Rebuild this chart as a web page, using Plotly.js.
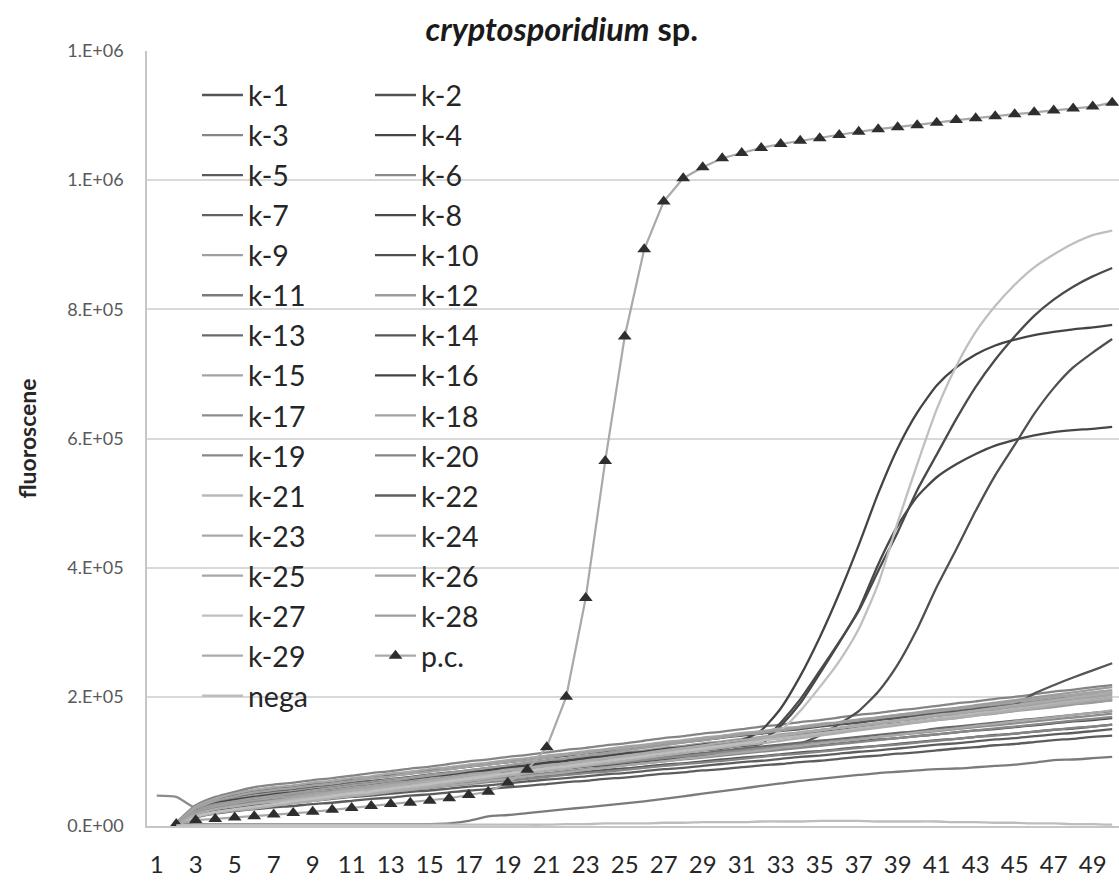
<!DOCTYPE html>
<html><head><meta charset="utf-8">
<script src="https://cdn.plot.ly/plotly-3.0.1.min.js"></script>
<style>html,body{margin:0;padding:0;background:#fff}#chart{width:1119px;height:882px}</style>
</head><body><div id="chart"></div>
<script>
// PCR cycle (category axis)
const cycles = [1,2,3,4,5,6,7,8,9,10,11,12,13,14,15,16,17,18,19,20,21,22,23,24,25,26,27,28,29,30,31,32,33,34,35,36,37,38,39,40,41,42,43,44,45,46,47,48,49,50];
const xTickVals = [1,3,5,7,9,11,13,15,17,19,21,23,25,27,29,31,33,35,37,39,41,43,45,47,49];
const xTickText = ['1','3','5','7','9','11','13','15','17','19','21','23','25','27','29','31','33','35','37','39','41','43','45','47','49'];
// y values are fluorescence in thousands
const yTickVals = [0,200,400,600,800,1000,1200];
const yTickText = ['0.E+00','2.E+05','4.E+05','6.E+05','8.E+05','1.E+06','1.E+06'];

const k1  = [null,2,20,29,34, 38,41,43,46,49, 52,54,57,60,62, 65,68,70,73,76, 79,81,84,87,89, 92,95,97,100,103, 106,108,111,114,116, 119,122,124,127,130, 133,135,138,141,143, 146,149,151,154,157];
const k2  = [null,3,24,34,40, 44,47,50,52,55, 58,61,64,66,69, 72,75,78,80,83, 86,89,92,94,97, 100,103,106,108,111, 114,117,120,122,125, 128,131,134,136,139, 142,145,148,150,153, 156,159,162,164,167];
const k3  = [null,5,32,45,53, 60,64,67,71,74, 78,82,85,89,92, 96,100,103,107,110, 114,118,121,125,128, 132,136,139,143,146, 150,154,157,161,164, 168,172,175,179,182, 186,190,193,197,200, 204,208,211,215,218];
const k4  = [null,3,23,33,38, 41,44,48,51,54, 58,61,64,67,71, 74,77,81,84,87, 91,94,97,100,104, 107,110,114,117,120, 124,127,155,190,236, 284,335,405,465,510, 540,560,576,589,598, 605,610,613,615,618];
const k5  = [null,2,13,19,23, 26,29,31,34,36, 39,42,44,47,49, 52,55,57,60,62, 65,68,70,73,75, 78,81,83,86,88, 91,94,96,99,101, 104,107,109,112,114, 117,120,122,125,127, 130,133,135,138,140];
const k6  = [null,4,28,40,47, 53,57,60,64,67, 71,74,78,81,85, 88,92,95,99,102, 106,109,113,116,120, 123,127,130,134,137, 141,144,148,151,155, 158,162,165,169,172, 176,179,183,186,190, 193,197,200,204,207];
const k7  = [null,3,26,37,44, 50,53,57,60,63, 67,70,73,76,80, 83,86,90,93,96, 100,103,106,109,113, 116,119,123,126,129, 133,136,139,142,146, 149,152,156,159,162, 166,169,172,175,179, 182,185,189,192,195];
const k8  = [null,3,24,34,40, 42,45,49,52,56, 59,62,66,69,73, 76,79,83,86,90, 93,96,100,103,107, 110,113,117,120,124, 127,130,160,196,240, 285,333,395,455,520, 575,630,680,722,758, 790,815,835,851,864];
const k9  = [null,3,25,35,42, 47,51,54,58,61, 65,68,72,75,79, 82,86,89,93,96, 100,103,107,110,114, 117,121,124,128,131, 135,138,142,145,149, 152,156,159,163,166, 170,173,177,180,184, 187,191,194,198,201];
const k10 = [null,3,22,31,36, 40,43,46,49,53, 56,59,62,65,68, 72,75,78,81,84, 87,90,94,97,100, 103,106,109,112,116, 119,122,125,128,140, 158,178,208,250,305, 370,428,488,543,590, 638,678,710,733,754];
const k11 = [null,3,3,3,3, 3,3,3,3,3, 3,3,3,3,3, 4,8,15,17,20, 23,26,29,32,35, 38,42,46,50,54, 58,62,66,70,73, 76,79,82,84,86, 88,89,91,93,95, 98,102,103,105,107];
const k12 = [null,3,24,33,40, 45,48,52,55,59, 62,65,69,72,76, 79,82,86,89,93, 96,99,103,106,110, 113,116,120,123,127, 130,133,137,140,144, 147,150,154,157,161, 164,167,171,174,178, 181,184,188,191,195];
const k13 = [null,3,22,31,37, 42,45,48,51,54, 58,61,64,67,70, 73,76,79,82,85, 89,92,95,98,101, 104,107,110,113,116, 120,123,126,129,132, 135,138,141,144,147, 151,154,157,160,163, 166,169,172,175,178];
const k14 = [null,3,28,41,49, 55,58,62,65,69, 72,75,79,82,86, 89,92,96,99,103, 106,109,113,116,120, 123,126,130,133,137, 140,143,147,150,154, 157,160,164,167,171, 174,177,181,184,188, 205,218,230,241,252];
const k15 = [null,3,21,30,36, 41,45,48,52,56, 60,63,67,71,74, 78,82,85,89,93, 97,100,104,108,111, 115,119,122,126,130, 134,137,141,145,148, 152,156,159,163,167, 171,174,178,182,185, 189,193,196,200,204];
const k16 = [null,3,25,35,41, 45,49,52,56,59, 63,66,70,73,77, 80,84,87,91,94, 98,101,105,108,112, 115,119,122,126,129, 133,148,182,232,292, 360,435,515,585,640, 682,710,730,744,753, 760,765,769,772,776];
const k17 = [47,45,28,34,38, 42,45,48,51,54, 57,60,63,66,69, 72,75,78,81,84, 87,90,93,96,99, 102,105,108,111,114, 117,120,123,126,129, 132,135,138,141,144, 147,150,153,156,159, 162,165,168,171,174];
const k18 = [null,2,20,28,34, 39,43,46,50,53, 57,61,64,68,71, 75,79,82,86,89, 93,97,100,104,107, 111,115,118,122,125, 129,133,136,140,143, 147,151,154,158,161, 165,169,172,176,179, 183,187,190,194,197];
const k19 = [null,2,19,27,32, 37,40,43,46,49, 52,55,58,61,64, 67,70,73,76,79, 82,85,88,91,94, 97,100,103,106,109, 112,115,118,121,124, 127,130,133,136,139, 142,145,148,151,154, 157,160,163,166,169];
const k20 = [null,2,18,25,30, 34,37,40,42,45, 48,51,54,56,59, 62,65,68,70,73, 76,79,82,84,87, 90,93,96,98,101, 104,107,110,112,115, 118,121,124,126,129, 132,135,138,140,143, 146,149,152,154,157];
const k21 = [null,2,17,24,29, 33,37,41,44,48, 52,56,60,63,67, 71,75,79,82,86, 90,94,98,101,105, 109,113,117,120,124, 128,132,136,139,143, 147,151,155,158,162, 166,170,174,177,181, 185,189,193,196,200];
const k22 = [null,2,16,23,27, 31,34,36,39,42, 45,47,50,53,55, 58,61,63,66,69, 72,74,77,80,82, 85,88,90,93,96, 99,101,104,107,109, 112,115,117,120,123, 126,128,131,134,136, 139,142,144,147,150];
const k23 = [null,2,15,21,25, 29,32,36,39,43, 46,49,53,56,60, 63,66,70,73,77, 80,83,87,90,94, 97,100,104,107,111, 114,117,121,124,128, 131,134,138,141,145, 148,151,155,158,162, 165,168,172,175,179];
const k24 = [null,2,14,20,24, 27,31,35,39,43, 47,50,54,58,62, 66,70,74,78,82, 86,89,93,97,101, 105,109,113,117,121, 125,128,132,136,140, 144,148,152,156,160, 164,167,171,175,179, 183,187,191,195,199];
const k25 = [null,4,30,42,50, 56,60,63,67,70, 74,77,81,84,88, 91,95,98,102,105, 109,112,116,119,123, 126,130,133,137,140, 144,147,151,154,158, 161,165,168,172,175, 179,182,186,189,193, 196,200,203,207,210];
const k26 = [null,3,27,39,46, 52,56,59,63,66, 70,74,77,81,84, 88,92,95,99,102, 106,110,113,117,120, 124,128,131,135,138, 142,146,149,153,156, 160,164,167,171,174, 178,182,185,189,192, 196,200,203,207,210];
const k27 = [null,2,15,22,26, 30,34,38,42,46, 50,53,57,61,65, 69,73,77,81,85, 89,92,96,100,104, 108,112,116,120,124, 128,131,148,178,215, 255,305,375,470,560, 645,712,765,805,838, 865,885,902,915,922];
const k28 = [null,3,23,32,38, 43,47,51,55,59, 63,66,70,74,78, 82,86,90,94,98, 102,105,109,113,117, 121,125,129,133,137, 141,144,148,152,156, 160,164,168,172,176, 180,183,187,191,195, 199,203,207,211,215];
const k29 = [null,2,18,26,31, 35,39,43,47,51, 55,58,62,66,70, 74,78,82,86,90, 94,97,101,105,109, 113,117,121,125,129, 133,136,140,144,148, 152,156,160,164,168, 172,175,179,183,187, 191,195,199,203,207];
const pc   = [null,3,9,11,13, 15,18,20,22,25, 28,31,34,36,39, 43,48,53,67,87, 122,200,353,565,758, 893,967,1003,1020,1034, 1042,1050,1056,1061,1065, 1070,1075,1079,1082,1085, 1089,1093,1096,1099,1102, 1105,1108,1111,1114,1120];
const nega = [null,1,2,2,2, 2,2,2,2,2, 2,2,2,2,2, 2,2,2,2,2, 2,3,3,4,4, 4,5,5,6,6, 6,7,7,7,8, 8,8,7,7,7, 7,6,6,5,5, 4,4,3,3,2];

const seriesNames = ['k-1','k-2','k-3','k-4','k-5','k-6','k-7','k-8','k-9','k-10','k-11','k-12','k-13','k-14','k-15','k-16','k-17','k-18','k-19','k-20','k-21','k-22','k-23','k-24','k-25','k-26','k-27','k-28','k-29','p.c.','nega'];
const seriesValues = [k1,k2,k3,k4,k5,k6,k7,k8,k9,k10,k11,k12,k13,k14,k15,k16,k17,k18,k19,k20,k21,k22,k23,k24,k25,k26,k27,k28,k29,pc,nega];

// styles
const lineColors = ['#555555','#525252','#858585','#474747','#5c5c5c','#8a8a8a','#626262','#4a4a4a','#9e9e9e','#4f4f4f',
  '#7b7b7b','#9c9c9c','#6a6a6a','#565656','#a3a3a3','#444444','#8c8c8c','#a2a2a2','#888888','#858585',
  '#b8b8b8','#5e5e5e','#a8a8a8','#adadad','#a6a6a6','#a2a2a2','#bfbfbf','#9d9d9d','#ababab','#a9a9a9','#bdbdbd'];
const legendOf = ['legend','legend2','legend','legend2','legend','legend2','legend','legend2','legend','legend2',
  'legend','legend2','legend','legend2','legend','legend2','legend','legend2','legend','legend2',
  'legend','legend2','legend','legend2','legend','legend2','legend','legend2','legend','legend2','legend'];

const traces = seriesNames.map((name, i) => {
  const isPC = name === 'p.c.';
  const t = {
    type: 'scatter',
    mode: isPC ? 'lines+markers' : 'lines',
    name: name,
    x: cycles,
    y: seriesValues[i],
    line: isPC ? {color: lineColors[i], width: 2.2} : {color: lineColors[i], width: 2.3, shape: 'spline', smoothing: 0.6},
    legend: legendOf[i],
    hoverinfo: 'name+x+y'
  };
  if (isPC) t.marker = {symbol: 'triangle-up', size: 12, color: '#2e2e2e'};
  return t;
});

const legendFont = {family: 'Lato, sans-serif', size: 28.5, color: '#262626'};
const layout = {
  width: 1119, height: 882,
  margin: {l: 147, r: 0, t: 51, b: 56, pad: 0},
  paper_bgcolor: '#ffffff', plot_bgcolor: '#ffffff',
  font: {family: 'Lato, sans-serif', color: '#262626'},
  title: {text: '<b><i>cryptosporidium</i> sp.</b>', font: {family: 'Lato, sans-serif', size: 32.5, color: '#1a1a1a'},
    xref: 'container', x: 0.502, xanchor: 'center', yref: 'container', y: 0.966, yanchor: 'middle'},
  xaxis: {range: [0.5, 50.35], tickmode: 'array', tickvals: xTickVals, ticktext: xTickText,
    showgrid: false, zeroline: false, showline: true, linecolor: '#c6c6c6', linewidth: 1.5,
    ticks: '', tickfont: {family: 'Lato, sans-serif', size: 24, color: '#262626'}, ticklabelstandoff: 16},
  yaxis: {range: [0, 1200], tickmode: 'array', tickvals: yTickVals, ticktext: yTickText,
    showgrid: true, gridcolor: '#d9d9d9', gridwidth: 1.5, zeroline: false, showline: true,
    linecolor: '#c6c6c6', linewidth: 1.5, ticks: '', tickfont: {family: 'Lato, sans-serif', size: 18, color: '#595959'}, ticklabelstandoff: 18,
    title: {text: '<b>fluoroscene</b>', font: {family: 'Lato, sans-serif', size: 23, color: '#262626'}, standoff: 24}},
  legend: {x: 0.0514, xanchor: 'left', y: 0.9755, yanchor: 'top', bgcolor: 'rgba(0,0,0,0)', borderwidth: 0,
    font: legendFont, itemwidth: 41},
  legend2: {x: 0.2294, xanchor: 'left', y: 0.9755, yanchor: 'top', bgcolor: 'rgba(0,0,0,0)', borderwidth: 0,
    font: legendFont, itemwidth: 41},
  shapes: [{type: 'rect', xref: 'paper', yref: 'paper', x0: 0.0247, x1: 0.3817, y0: 0.1368, y1: 0.988,
    fillcolor: '#ffffff', line: {width: 0}, layer: 'between'}],
  showlegend: true
};

Plotly.newPlot('chart', traces, layout, {displayModeBar: false, responsive: false});
</script>
</body></html>
